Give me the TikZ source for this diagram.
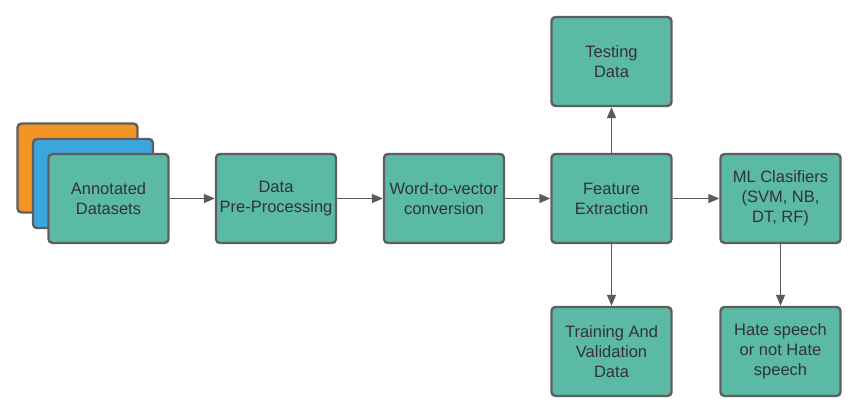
\documentclass[tikz,border=0pt]{standalone}
\usepackage{fontspec}
\setmainfont{Liberation Sans}
\usetikzlibrary{arrows.meta}
\definecolor{tealf}{HTML}{5BBAA6}
\definecolor{edgec}{HTML}{5E5E5E}
\definecolor{orangef}{HTML}{F39425}
\definecolor{bluef}{HTML}{3AA6DD}
\definecolor{txt}{HTML}{333333}
\definecolor{arr}{HTML}{5A5A5A}
\tikzset{
  box/.style={draw=edgec, line width=2.4pt, fill=tealf, rounded corners=4pt,
    minimum width=120pt, minimum height=89pt, align=center, text=txt,
    font=\fontsize{16.5}{20}\selectfont, inner sep=2pt},
  conn/.style={draw=arr, line width=1.5pt, -{Triangle[length=11pt,width=9pt]}}
}
\begin{document}
\begin{tikzpicture}[x=1pt,y=-1pt]
\useasboundingbox (0,0) rectangle (858,414);
\node[box, fill=orangef] (orng) at (77.5,168) {};
\node[box, fill=bluef] (blue) at (93,183.5) {};
\node[box] (ann) at (108.5,198.5) {Annotated\\Datasets};
\node[box] (pre) at (276,198.5) {Data\\Pre-Processing};
\node[box] (w2v) at (444,198.5) {Word-to-vector\\conversion};
\node[box] (feat) at (611.5,198.5) {Feature\\Extraction};
\node[box] (test) at (611.5,61.5) {Testing\\Data};
\node[box] (ml) at (780.5,198.5) {ML Clasifiers\\(SVM, NB,\\DT, RF)};
\node[box] (train) at (611.5,351.5) {Training And\\Validation\\Data};
\node[box] (hate) at (780.5,351.5) {Hate speech\\or not Hate\\speech};
\draw[conn] (ann) -- (pre);
\draw[conn] (pre) -- (w2v);
\draw[conn] (w2v) -- (feat);
\draw[conn] (feat) -- (ml);
\draw[conn] (feat) -- (test);
\draw[conn] (feat) -- (train);
\draw[conn] (ml) -- (hate);
\end{tikzpicture}
\end{document}
